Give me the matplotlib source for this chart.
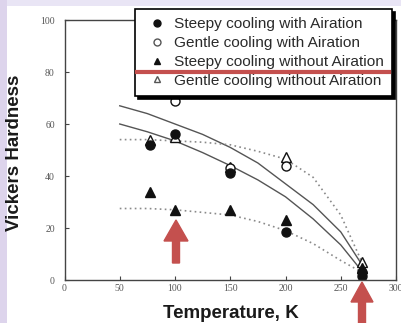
import matplotlib
matplotlib.use("Agg")
import matplotlib.pyplot as plt
from matplotlib.lines import Line2D
from matplotlib.patches import Rectangle, FancyArrow

# ---- measured points (temperature K, Vickers hardness) ----
temp_steep_air = [77, 100, 150, 200, 269]
hv_steep_air = [52, 56, 41, 18.5, 1.5]

temp_gentle_air = [100, 150, 200, 269]
hv_gentle_air = [69, 43, 44, 3]

temp_steep_noair = [77, 100, 150, 200, 269]
hv_steep_noair = [34, 27, 27, 23, 4.5]

temp_gentle_noair = [77, 100, 150, 200, 269]
hv_gentle_noair = [54, 55, 43.5, 47.5, 7]

# ---- trend curves ----
curve_T = [50, 75, 100, 125, 150, 175, 200, 225, 250, 269]
solid_upper = [67, 64, 60, 56, 51, 45, 37, 29, 18.5, 6]
solid_lower = [60, 57, 53.5, 49, 44, 38.5, 32, 23.5, 13.5, 3.5]
dotted_upper = [54, 54, 53.5, 53, 52, 49.5, 46.5, 39.5, 25, 7]
dotted_lower = [27.5, 27.5, 27, 26, 25, 22.5, 19, 14, 7.5, 3]

legend_labels = ["Steepy cooling with Airation", "Gentle cooling with Airation",
                 "Steepy cooling without Airation", "Gentle cooling without Airation"]
xticks = [0, 50, 100, 150, 200, 250, 300]
yticks = [0, 20, 40, 60, 80, 100]

W, H = 401, 323
red = "#c4504e"

fig = plt.figure(figsize=(W / 100, H / 100), dpi=100, facecolor="#e9e5f5")
fig.patches.append(Rectangle((0, 0), 7 / W, 1, transform=fig.transFigure,
                             facecolor="#ddd4ec", edgecolor="none", zorder=-3))
fig.patches.append(Rectangle((7 / W, 0), 1, (H - 6) / H, transform=fig.transFigure,
                             facecolor="white", edgecolor="none", zorder=-2))

ax = fig.add_axes([64.5 / W, (H - 280) / H, 331.5 / W, 260 / H])
ax.set_facecolor("white")

ax.plot(curve_T, solid_upper, color="#555555", lw=1.0)
ax.plot(curve_T, solid_lower, color="#555555", lw=1.0)
ax.plot(curve_T, dotted_upper, color="#8a8a8a", lw=1.2, ls=(0, (1, 2)))
ax.plot(curve_T, dotted_lower, color="#8a8a8a", lw=1.2, ls=(0, (1, 2)))

ms = 6.5
ax.plot(temp_gentle_noair, hv_gentle_noair, "^", ms=ms, mfc="white", mec="#111111", mew=1.0, ls="none")
ax.plot(temp_gentle_air, hv_gentle_air, "o", ms=ms, mfc="white", mec="#111111", mew=1.0, ls="none")
ax.plot(temp_steep_noair, hv_steep_noair, "^", ms=ms, mfc="#111111", mec="#111111", ls="none")
ax.plot(temp_steep_air, hv_steep_air, "o", ms=ms, mfc="#111111", mec="#111111", ls="none")

ax.set_xlim(0, 300)
ax.set_ylim(0, 100)
ax.set_xticks(xticks)
ax.set_yticks(yticks)
for s in ax.spines.values():
    s.set_color("#444444")
    s.set_linewidth(1.0)
ax.tick_params(direction="in", length=3, width=0.8, color="#444444",
               labelsize=7, labelcolor="#555555")
ax.tick_params(axis="x", pad=3)
ax.tick_params(axis="y", pad=7)
for lab in ax.get_xticklabels() + ax.get_yticklabels():
    lab.set_family("Liberation Serif")

ax.set_xlabel("Temperature, K", family="Liberation Sans", weight="bold",
              fontsize=13.5, color="#1a1a1a")
ax.set_ylabel("Vickers Hardness", family="Liberation Sans", weight="bold",
              fontsize=13.5, color="#1a1a1a")
ax.xaxis.set_label_coords(0.502, -0.095)
ax.yaxis.set_label_coords(-0.126, 0.49)

# legend
handles = [
    Line2D([], [], marker="o", ls="none", mfc="#111111", mec="#111111", ms=5),
    Line2D([], [], marker="o", ls="none", mfc="white", mec="#555555", ms=5),
    Line2D([], [], marker="^", ls="none", mfc="#111111", mec="#111111", ms=5),
    Line2D([], [], marker="^", ls="none", mfc="white", mec="#555555", ms=5),
]
leg = fig.legend(handles, legend_labels, loc="upper left",
                 bbox_to_anchor=(135 / W, 1 - 9 / H), borderaxespad=0,
                 prop={"family": "Liberation Sans", "size": 11.1},
                 labelcolor="#2a2a2a", handlelength=1.73, handletextpad=0.24,
                 borderpad=0.55, labelspacing=0.31, fancybox=False,
                 shadow={"color": "black", "alpha": 1})
leg.get_frame().set_edgecolor("black")
leg.get_frame().set_linewidth(1.2)
leg.get_frame().set_alpha(1)

# red annotations
fig.lines.append(Line2D([137 / W, 389 / W], [(H - 72) / H, (H - 72) / H],
                        transform=fig.transFigure, color=red, lw=3.0, zorder=20))
tr = fig.dpi_scale_trans
fig.patches.append(FancyArrow(176 / 100, 60 / 100, 0, 43 / 100, width=7 / 100,
                              head_width=24 / 100, head_length=21 / 100,
                              length_includes_head=True, transform=tr,
                              color=red, zorder=20))
fig.patches.append(FancyArrow(362 / 100, -2 / 100, 0, 43 / 100, width=7 / 100,
                              head_width=22 / 100, head_length=20 / 100,
                              length_includes_head=True, transform=tr,
                              color=red, zorder=20))

fig.savefig("out.png", dpi=100, facecolor=fig.get_facecolor())
